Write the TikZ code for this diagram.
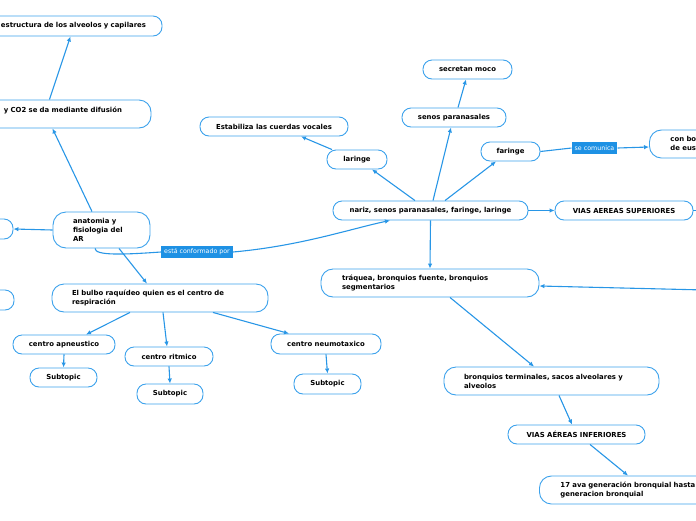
\documentclass[tikz,border=0pt]{standalone}
\usepackage{fontspec}
\setmainfont{DejaVu Sans}
\usetikzlibrary{arrows.meta}
\definecolor{lineblue}{RGB}{40,150,230}
\definecolor{boxblue}{RGB}{60,162,236}
\definecolor{labblue}{RGB}{30,145,228}
\begin{document}
\begin{tikzpicture}[x=1pt,y=-1pt,
  box/.style={draw=boxblue, line width=0.9pt, rounded corners=9pt, fill=white,
    font=\fontsize{6.9}{9}\selectfont\bfseries, inner sep=0pt, text=black},
  tall/.style={rounded corners=12pt, minimum height=28pt},
  conn/.style={draw=lineblue, line width=1.1pt, -{Latex[length=5pt,width=4.5pt]}},
  plain/.style={draw=lineblue, line width=1.1pt},
  lab/.style={fill=labblue, text=white, font=\fontsize{6.3}{7}\selectfont,
    inner xsep=3pt, inner ysep=0pt, minimum height=12pt}
]
\useasboundingbox (0,0) rectangle (696,520);
\clip (0,0) rectangle (696,520);

% left column
\node[box, align=right, text width=180pt, inner xsep=16pt, minimum height=20pt] (estr) at (56,26) {estructura de los alveolos y capilares};
\node[box, tall, align=right, text width=250pt, inner xsep=29pt] (difu) at (-3,114) {y CO2 se da mediante difusión\\\mbox{}};
\node[box, minimum width=80pt, minimum height=20pt] (lefta) at (-27,229) {};
\node[box, minimum width=80pt, minimum height=20pt] (leftb) at (-26,300) {};
\node[box, rounded corners=13pt, text width=57pt, inner xsep=20pt, align=left, minimum height=36pt] (anat) at (101.5,230) {anatomia y\\fisiologia del\\AR};
\node[box, tall, text width=176pt, inner xsep=20pt, align=left] (bulbo) at (160,298) {El bulbo raquídeo quien es el centro de\\respiración};
\node[box, minimum width=102pt, minimum height=19pt] (capn) at (64,344.5) {centro apneustico};
\node[box, minimum width=88pt, minimum height=19pt] (crit) at (169,356.5) {centro ritmico};
\node[box, minimum width=110pt, minimum height=20pt] (cneu) at (326,344) {centro neumotaxico};
\node[box, minimum width=67pt, minimum height=19pt] (sub1) at (63.5,377.5) {Subtopic};
\node[box, minimum width=66pt, minimum height=20pt] (sub2) at (170,394) {Subtopic};
\node[box, minimum width=67pt, minimum height=20pt] (sub3) at (327.5,384) {Subtopic};

% right part
\node[box, minimum width=195pt, minimum height=19pt] (nariz) at (430.5,210.5) {nariz, senos paranasales, faringe, laringe};
\node[box, minimum width=138pt, minimum height=19pt] (vsup) at (624,210.5) {VIAS AEREAS SUPERIORES};
\node[box, minimum width=60pt, minimum height=19pt] (laringe) at (357,159.5) {laringe};
\node[box, minimum width=148pt, minimum height=19pt] (estab) at (274,126.5) {Estabiliza las cuerdas vocales};
\node[box, minimum width=104pt, minimum height=19pt] (senos) at (454,117.5) {senos paranasales};
\node[box, minimum width=89pt, minimum height=19pt] (moco) at (467.5,69.5) {secretan moco};
\node[box, minimum width=59pt, minimum height=19pt] (far) at (510.5,151.5) {faringe};
\node[box, tall, anchor=west, text width=100pt, inner xsep=21pt, align=left] (bolsa) at (649,144) {con boca\\de eustaquio};
\node[box, tall, text width=176pt, inner xsep=21pt, align=left] (traq) at (430,283) {tráquea, bronquios fuente, bronquios\\segmentarios};
\node[box, tall, text width=175pt, inner xsep=20pt, align=left] (bterm) at (551.5,381) {bronquios terminales, sacos alveolares y\\alveolos};
\node[box, minimum width=137pt, minimum height=19pt] (vinf) at (576.5,434.5) {VIAS AÉREAS INFERIORES};
\node[box, tall, anchor=west, text width=250pt, inner xsep=21pt, align=left] (gen17) at (539,490) {17 ava generación bronquial hasta la 23\\generacion bronquial};

% labels
\node[lab] (l1) at (197,252) {está conformado por};
\node[lab] (l2) at (594.5,148) {se comunica};

% connectors
\draw[conn] ([xshift=-9.5pt]anat.north) -- ([xshift=-99pt]difu.south east);
\draw[conn] ([xshift=-102pt]difu.north east) -- ([xshift=-92pt]estr.south east);
\draw[conn] (anat.west) -- (lefta.east);
\draw[conn] ([xshift=17.5pt]anat.south) -- ([xshift=-13pt]bulbo.north);
\draw[plain] ([xshift=-6.5pt]anat.south) .. controls (95,256) and (125,254.5) .. (l1.west);
\draw[conn] (l1.east) .. controls (300,246) and (350,229) .. ([xshift=-40.5pt]nariz.south);
\draw[conn] ([xshift=-30pt]bulbo.south) -- ([xshift=22pt]capn.north);
\draw[conn] ([xshift=3pt]bulbo.south) -- ([xshift=-2pt]crit.north);
\draw[conn] ([xshift=53pt]bulbo.south) -- ([xshift=-37pt]cneu.north);
\draw[conn] (capn.south) -- (sub1.north);
\draw[conn] (crit.south) -- (sub2.north);
\draw[conn] (cneu.south) -- (sub3.north);

\draw[conn] (nariz.east) -- (vsup.west);
\draw[plain] (vsup.east) -- ++(8,0);
\draw[conn] ([xshift=-15.5pt]nariz.north) -- ([xshift=15pt]laringe.south);
\draw[conn] ([xshift=-25pt]laringe.north) -- ([xshift=27pt]estab.south);
\draw[conn] ([xshift=2.5pt]nariz.north) -- ([xshift=-3pt]senos.south);
\draw[conn] ([xshift=4pt]senos.north) -- ([xshift=-1.5pt]moco.south);
\draw[conn] ([xshift=14.5pt]nariz.north) -- ([xshift=-14.5pt]far.south);
\draw[plain] (far.east) -- (l2.west);
\draw[conn] (l2.east) -- ([yshift=-3pt]bolsa.west);
\draw[conn] (nariz.south) -- (traq.north);
\coordinate (redge) at (705,290);
\draw[conn] (redge) -- ([yshift=-3pt]traq.east);
\draw[conn] ([xshift=20pt]traq.south) -- ([xshift=-17.5pt]bterm.north);
\draw[conn] ([xshift=7.5pt]bterm.south) -- ([xshift=-4.5pt]vinf.north);
\draw[conn] ([xshift=13.5pt]vinf.south) -- ([xshift=89pt]gen17.north west);
\end{tikzpicture}
\end{document}
